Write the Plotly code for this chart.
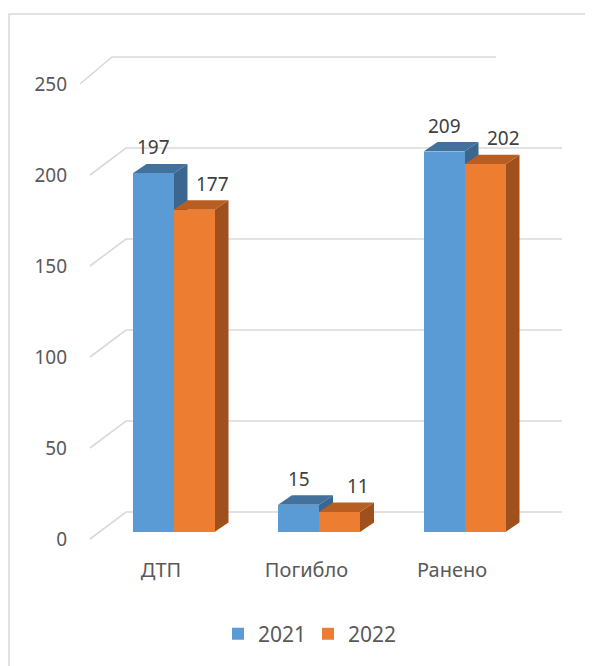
import plotly.graph_objects as go

# ---- data ----
categories = ["ДТП", "Погибло", "Ранено"]
series_names = ["2021", "2022"]
values_2021 = [197, 15, 209]
values_2022 = [177, 11, 202]
y_ticks = [0, 50, 100, 150, 200, 250]

# ---- geometry (pixels of the 593x666 page) ----
PAGE_OFF = 8                     # default body margin of the html page
W, H = 593 - PAGE_OFF, 666 - PAGE_OFF
L, R, T, B = 68, 570, 30, 556   # plot area in page pixels
PX_CAT0, PX_PER_CAT = 161.0, 145.5      # category tick pixel position / spacing
PX_Y0, PX_PER_UNIT = 539.0, 1.82        # value 0 on the front plane / px per unit

def ux(px):
    return (px - PX_CAT0) / PX_PER_CAT

def dux(dpx):
    return dpx / PX_PER_CAT

def duy(dpx):
    return dpx / PX_PER_UNIT

x_range = [ux(L), ux(R)]
y_range = [(PX_Y0 - B) / PX_PER_UNIT, (PX_Y0 - T) / PX_PER_UNIT]

def paper_x(px):
    return (px - L) / (R - L)

def paper_y(py):
    return (B - py) / (B - T)

BAR_W = dux(41)
GROUP_SHIFT = dux(12.5)
BASE = duy(7)          # bars sit a little behind the front edge of the floor
DEPTH_X = dux(14)
DEPTH_Y = duy(9.5)
WALL_DY = duy(27)

colors_front = ["#5B9BD5", "#ED7D31"]
colors_top = ["#41719C", "#B85E22"]
colors_side = ["#3A6690", "#A0501C"]
grid_color = "#D9D9D9"
text_color = "#595959"
label_color = "#404040"
FONT = "Noto Sans"

series_values = [values_2021, values_2022]

fig = go.Figure()
shapes = []
annotations = []

# frame
shapes.append(dict(type="rect", xref="paper", yref="paper",
                   x0=paper_x(9), x1=paper_x(640), y0=paper_y(14), y1=paper_y(720),
                   line=dict(color=grid_color, width=1.5), fillcolor="rgba(0,0,0,0)",
                   layer="below"))

# back-wall gridlines with oblique floor/side segment
for v in y_ticks:
    front_px, back_px = (80, 112) if v == 250 else (90, 126)
    end_px = 496 if v == 250 else 562
    x_f, x_b, x_e = ux(front_px), ux(back_px), ux(end_px)
    y_f, y_b = v, v + WALL_DY
    shapes.append(dict(type="path", xref="x", yref="y",
                       path=f"M{x_f},{y_f} L{x_b},{y_b} L{x_e},{y_b}",
                       line=dict(color=grid_color, width=1.6), layer="below"))

# bars (front faces) + side/top faces
for s, (name, vals) in enumerate(zip(series_names, series_values)):
    xs = [i + GROUP_SHIFT + (s - 0.5) * BAR_W for i in range(len(categories))]
    fig.add_trace(go.Bar(
        x=xs, y=vals, base=[BASE] * len(vals), width=BAR_W, name=name,
        marker=dict(color=colors_front[s], line=dict(width=0)),
        hovertext=categories, hoverinfo="text+y+name",
    ))

for i in range(len(categories)):
    for s, vals in enumerate(series_values):
        xc = i + GROUP_SHIFT + (s - 0.5) * BAR_W
        xl, xr = xc - BAR_W / 2, xc + BAR_W / 2
        yb, yt = BASE, BASE + vals[i]
        side = (f"M{xr},{yb} L{xr + DEPTH_X},{yb + DEPTH_Y} "
                f"L{xr + DEPTH_X},{yt + DEPTH_Y} L{xr},{yt} Z")
        top = (f"M{xl},{yt} L{xl + DEPTH_X},{yt + DEPTH_Y} "
               f"L{xr + DEPTH_X},{yt + DEPTH_Y} L{xr},{yt} Z")
        shapes.append(dict(type="path", xref="x", yref="y", path=side,
                           fillcolor=colors_side[s], line=dict(width=0), layer="below"))
        shapes.append(dict(type="path", xref="x", yref="y", path=top,
                           fillcolor=colors_top[s], line=dict(width=0), layer="below"))
        annotations.append(dict(x=xc, y=yt, xref="x", yref="y", text=str(vals[i]),
                                showarrow=False, yshift=26, xshift=(0 if s == 0 else 18),
                                font=dict(family=FONT, size=19, color=label_color)))

fig.update_layout(
    width=W, height=H, autosize=False,
    margin=dict(l=L - PAGE_OFF, r=W - (R - PAGE_OFF), t=T - PAGE_OFF,
                b=H - (B - PAGE_OFF), pad=0),
    paper_bgcolor="white", plot_bgcolor="white",
    barmode="overlay", bargap=0,
    font=dict(family=FONT, size=19, color=text_color),
    shapes=shapes, annotations=annotations,
    showlegend=True,
    legend=dict(orientation="h", x=paper_x(218), xanchor="left",
                y=paper_y(634), yanchor="middle",
                font=dict(family=FONT, size=21, color=text_color),
                itemwidth=30, entrywidth=45, entrywidthmode="pixels",
                traceorder="normal"),
    xaxis=dict(range=x_range, tickvals=list(range(len(categories))), ticktext=categories,
               showgrid=False, zeroline=False, showline=False, ticks="",
               tickfont=dict(family=FONT, size=20, color=text_color), fixedrange=True),
    yaxis=dict(range=y_range, tickvals=y_ticks, ticktext=[str(t) for t in y_ticks],
               showgrid=False, zeroline=False, showline=False, ticks="",
               tickfont=dict(family=FONT, size=19, color=text_color), fixedrange=True),
)

fig.write_html("out.html")
